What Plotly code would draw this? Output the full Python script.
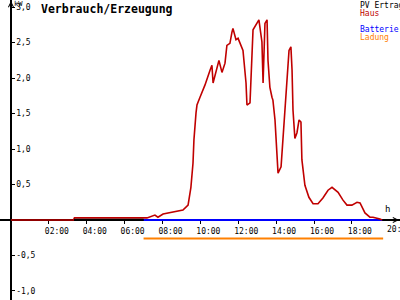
import plotly.graph_objects as go

# ---- data ----
haus_h = [0.0, 3.3, 3.35, 7.0, 7.18, 7.60, 7.76, 8.03, 8.55, 9.08, 9.35, 9.50, 9.61, 9.66, 9.77, 9.82,
          9.98, 10.24, 10.51, 10.61, 10.67, 10.88, 10.98, 11.14, 11.30, 11.40, 11.56, 11.67, 11.72,
          11.88, 11.99, 12.25, 12.41, 12.46, 12.62, 12.78, 12.99, 13.09, 13.25, 13.31, 13.41, 13.52,
          13.57, 13.67, 13.78, 13.83, 13.94, 14.04, 14.10, 14.26, 14.36, 14.52, 14.68, 14.78, 14.84,
          14.89, 14.99, 15.10, 15.21, 15.31, 15.36, 15.52, 15.73, 15.95, 16.21, 16.47, 16.74, 16.95,
          17.27, 17.53, 17.74, 18.00, 18.27, 18.43, 18.69, 18.95, 19.11, 19.48, 19.59]
haus_kw = [0.0, 0.0, 0.03, 0.03, 0.03, 0.07, 0.04, 0.085, 0.11, 0.14, 0.21, 0.46, 0.80, 1.13, 1.51, 1.62,
           1.73, 1.90, 2.11, 2.18, 1.93, 2.15, 2.25, 2.08, 2.21, 2.46, 2.49, 2.65, 2.70,
           2.54, 2.56, 2.39, 1.93, 1.62, 1.65, 2.68, 2.79, 2.82, 2.51, 1.93, 2.77, 2.82,
           2.25, 1.87, 1.73, 1.69, 1.41, 0.89, 0.66, 0.75, 1.17, 1.87, 2.39, 2.44, 2.11,
           1.55, 1.15, 1.23, 1.41, 1.38, 0.85, 0.49, 0.32, 0.23, 0.23, 0.31, 0.42, 0.46,
           0.39, 0.28, 0.21, 0.21, 0.25, 0.24, 0.10, 0.04, 0.04, 0.015, 0.0]
pv_h = [3.33, 7.0]
pv_kw = [0.005, 0.005]
batt_h = [7.0, 19.6]
batt_kw = [0.0, 0.0]
lad_h = [7.0, 19.65]
lad_kw = [-0.26, -0.26]

x_ticks = [2, 4, 6, 8, 10, 12, 14, 16, 18, 20]
x_labels = ["02:00", "04:00", "06:00", "08:00", "10:00", "12:00", "14:00", "16:00", "18:00", "20:00"]
y_ticks = [-1.0, -0.5, 0.5, 1.0, 1.5, 2.0, 2.5, 3.0]
y_labels = ["-1,0", "-0,5", "0,5", "1,0", "1,5", "2,0", "2,5", "3,0"]

xr = [-0.58, 20.54]
yr = [-1.127, 3.1]
xpos = (0 - xr[0]) / (xr[1] - xr[0])
ypos = (0 - yr[0]) / (yr[1] - yr[0])

RED = "#c00000"
BLUE = "#0000ff"
ORANGE = "#ff8000"
MONO = "DejaVu Sans Mono"

fig = go.Figure()
fig.add_trace(go.Scatter(x=batt_h, y=batt_kw, mode="lines", line=dict(color=BLUE, width=2), hoverinfo="skip"))
fig.add_trace(go.Scatter(x=lad_h, y=lad_kw, mode="lines", line=dict(color=ORANGE, width=2), hoverinfo="skip"))
fig.add_trace(go.Scatter(x=haus_h, y=haus_kw, mode="lines", line=dict(color=RED, width=1.6), hoverinfo="skip"))
fig.add_trace(go.Scatter(x=pv_h, y=pv_kw, mode="lines", line=dict(color="black", width=2), hoverinfo="skip"))

axfont = dict(family=MONO, size=8, color="black")
fig.update_layout(
    width=400, height=300, margin=dict(l=0, r=0, t=0, b=0, autoexpand=False),
    paper_bgcolor="white", plot_bgcolor="white", showlegend=False,
    xaxis=dict(range=xr, anchor="free", position=ypos, showline=True, linecolor="black", linewidth=1.5,
               ticks="outside", ticklen=3, tickwidth=1, tickcolor="black",
               tickvals=x_ticks[:-1], ticktext=x_labels[:-1], tickfont=axfont, ticklabelshift=8,
               ticklabelstandoff=1, automargin=False,
               showgrid=False, zeroline=False, layer="below traces"),
    xaxis2=dict(range=xr, matches="x", overlaying="x", anchor="free", position=ypos, showline=False,
                ticks="inside", ticklen=3, tickwidth=1, tickcolor="black", tickvals=x_ticks,
                showticklabels=False, showgrid=False, zeroline=False, layer="below traces"),
    yaxis=dict(range=yr, anchor="free", position=xpos, showline=True, linecolor="black", linewidth=1.5,
               ticks="inside", ticklen=3, tickwidth=1, tickcolor="black",
               tickvals=y_ticks, ticktext=y_labels, tickfont=axfont, ticklabelposition="inside",
               automargin=False,
               showgrid=False, zeroline=False, layer="below traces"),
    yaxis2=dict(range=yr, matches="y", overlaying="y", anchor="free", position=xpos,
                ticks="outside", ticklen=3, tickwidth=1, tickcolor="black", tickvals=y_ticks,
                showticklabels=False, showgrid=False, zeroline=False, layer="below traces"),
)

# last x tick label runs past the right edge (as in the reference)
fig.add_annotation(text=x_labels[-1], xref="x", yref="paper", x=x_ticks[-1], y=ypos, xanchor="left",
                   yanchor="top", xshift=-4, yshift=-4, showarrow=False, font=axfont, borderpad=0)

def ann(text, x, y, color="black", size=8, bold=False, xanchor="left", yanchor="top"):
    fig.add_annotation(text=("<b>%s</b>" % text) if bold else text, xref="paper", yref="paper",
                       x=x, y=y, showarrow=False, xanchor=xanchor, yanchor=yanchor,
                       font=dict(family=MONO, size=size, color=color), borderpad=0)

ann("Verbrauch/Erzeugung", 40 / 400, 1 - 1 / 300, size=11.5, bold=True)
ann("kW", 13 / 400, 1 + 1 / 300, size=7)
ann("PV Ertrag", 359 / 400, 1 - 0 / 300)
ann("Haus", 359 / 400, 1 - 8 / 300, color=RED)
ann("Batterie", 359 / 400, 1 - 24 / 300, color=BLUE)
ann("Ladung", 359 / 400, 1 - 32 / 300, color=ORANGE)
ann("h", 384 / 400, 1 - 203 / 300, size=9)

# axis arrows
fig.add_annotation(xref="paper", yref="paper", x=xpos, y=1, ax=0, ay=8, axref="pixel", ayref="pixel",
                   showarrow=True, arrowhead=5, arrowsize=1, arrowwidth=1, arrowcolor="black", text="")
fig.add_annotation(xref="paper", yref="paper", x=1, y=ypos, ax=-8, ay=0, axref="pixel", ayref="pixel",
                   showarrow=True, arrowhead=5, arrowsize=1, arrowwidth=1, arrowcolor="black", text="")

fig.write_html("out.html")
